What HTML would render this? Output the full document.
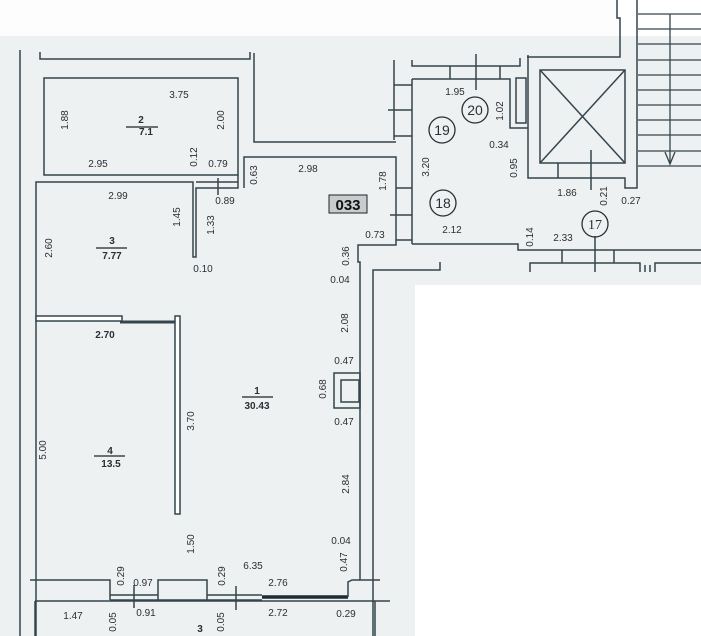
<!DOCTYPE html>
<html><head><meta charset="utf-8"><style>
html,body{margin:0;padding:0;background:#fff}
svg{display:block}
text{font-family:"Liberation Sans",sans-serif;font-size:10px;fill:#2a2f33}
</style></head><body>
<svg width="701" height="636" viewBox="0 0 701 636" xmlns="http://www.w3.org/2000/svg">
<rect x="0" y="36" width="701" height="600" fill="#eef1f2"/>
<rect x="0" y="0" width="620" height="36" fill="#fdfdfd"/>
<rect x="415" y="285" width="286" height="351" fill="#ffffff"/>
<g stroke="#34454d" stroke-width="1.5" fill="none">
<line x1="20" y1="50" x2="20" y2="636"/>
<polyline points="40,52 40,59 250,59 250,52"/>
<rect x="44" y="78" width="194" height="97"/>
<polyline points="254,53 254,142 396,142"/>
<polyline points="36,636 36,182 193,182 193,257 196,257 196,188 238,188 238,175"/>
<line x1="196" y1="182" x2="238" y2="182"/>
<line x1="218" y1="178" x2="218" y2="195"/>
<polyline points="244,188 244,157 396,157 396,245 358,245 358,262 360,262 360,580 380,580"/>
<line x1="396" y1="188" x2="412" y2="188"/>
<line x1="390" y1="215" x2="412" y2="215"/>
<line x1="396" y1="240" x2="412" y2="240"/>
<polyline points="373,636 373,270 440,270 440,262"/>
<rect x="334" y="373" width="26" height="35"/>
<rect x="341" y="380" width="18" height="22"/>
<polyline points="394,60 394,140"/>
<line x1="394" y1="85" x2="412" y2="85"/>
<line x1="388" y1="110" x2="412" y2="110"/>
<line x1="394" y1="136" x2="412" y2="136"/>
<polyline points="412,79 510,79 510,128 528,128"/>
<line x1="412" y1="79" x2="412" y2="244"/>
<polyline points="412,244 518,244 518,250 701,250"/>
<polyline points="412,60 412,66 520,66 520,58"/>
<line x1="450" y1="66" x2="450" y2="79"/>
<line x1="476" y1="54" x2="476" y2="90"/>
<line x1="500" y1="66" x2="500" y2="79"/>
<rect x="516" y="78" width="10" height="45"/>
<polyline points="528,55 528,178 625,178 625,188 637,188 637,0"/>
<polyline points="527,57 620,57 620,18 617,18 617,0"/>
<rect x="540" y="70" width="85" height="93"/>
<line x1="540" y1="70" x2="625" y2="163"/>
<line x1="625" y1="70" x2="540" y2="163"/>
<line x1="558" y1="163" x2="558" y2="178"/>
<line x1="591" y1="150" x2="591" y2="190"/>
<g stroke-width="1.3">
<line x1="638" y1="14" x2="701" y2="14"/><line x1="638" y1="29" x2="701" y2="29"/>
<line x1="638" y1="44" x2="701" y2="44"/><line x1="638" y1="60" x2="701" y2="60"/>
<line x1="638" y1="75" x2="701" y2="75"/><line x1="638" y1="90" x2="701" y2="90"/>
<line x1="638" y1="105" x2="701" y2="105"/><line x1="638" y1="120" x2="701" y2="120"/>
<line x1="638" y1="135" x2="701" y2="135"/><line x1="638" y1="151" x2="701" y2="151"/>
<line x1="638" y1="166" x2="701" y2="166"/>
<line x1="670" y1="14" x2="670" y2="164"/>
<polyline points="665,152 670,164 675,152"/>
</g>
<polyline points="530,272 530,263 640,263 640,272"/>
<polyline points="655,272 655,263 701,263"/>
<line x1="562" y1="250" x2="562" y2="263"/>
<line x1="595" y1="236" x2="595" y2="272"/>
<line x1="614" y1="250" x2="614" y2="263"/>
<line x1="645" y1="265" x2="645" y2="272"/><line x1="650" y1="265" x2="650" y2="272"/>
<rect x="36" y="316" width="86" height="5" fill="#fff"/>
<line x1="120" y1="322" x2="175" y2="322" stroke-width="3"/>
<rect x="175" y="316" width="5" height="198" fill="#fff"/>
<polyline points="30,580 110,580 110,600"/>
<line x1="110" y1="595" x2="158" y2="595"/>
<line x1="110" y1="600" x2="158" y2="600"/>
<rect x="158" y="580" width="49" height="20"/>
<line x1="207" y1="595" x2="262" y2="595"/>
<line x1="207" y1="600" x2="262" y2="600"/>
<line x1="262" y1="597" x2="348" y2="597" stroke-width="3.5" stroke="#1f2a33"/>
<polyline points="348,597 348,582 352,580 360,580"/>
<line x1="35" y1="601" x2="390" y2="601"/>
<line x1="35" y1="601" x2="35" y2="636"/>
<line x1="134" y1="585" x2="134" y2="608"/>
<line x1="236" y1="586" x2="236" y2="610"/>
<line x1="375" y1="601" x2="375" y2="636"/>
</g>
<g stroke="#2a2f33" stroke-width="1.3" fill="none">
<circle cx="475" cy="110" r="13"/><circle cx="442" cy="130" r="13"/>
<circle cx="443" cy="203" r="13"/><circle cx="595" cy="224" r="13"/>
</g>
<g text-anchor="middle">
<text x="475" y="115" style="font-size:14px">20</text><text x="442" y="135" style="font-size:14px">19</text>
<text x="443" y="208" style="font-size:14px">18</text><text x="595" y="229" style="font-size:14px;font-family:'Liberation Serif',serif">17</text>
</g>
<rect x="329" y="195" width="38" height="18" fill="#c8ccce" stroke="#222" stroke-width="1"/>
<text x="348" y="210" text-anchor="middle" style="font-size:15px;font-weight:bold;fill:#111">033</text>
<g text-anchor="middle" style="font-size:11px;font-weight:bold">
<text x="141" y="123">2</text><text x="146" y="135">7.1</text>
<text x="112" y="244">3</text><text x="112" y="259">7.77</text>
<text x="110" y="454">4</text><text x="111" y="467">13.5</text>
<text x="257" y="394">1</text><text x="257" y="409">30.43</text>
<text x="200" y="632">3</text>
</g>
<g stroke="#222" stroke-width="1.2">
<line x1="126" y1="127" x2="158" y2="127"/><line x1="96" y1="248" x2="127" y2="248"/>
<line x1="94" y1="456" x2="125" y2="456"/><line x1="242" y1="397" x2="273" y2="397"/>
</g>
<g text-anchor="middle">
<text x="179" y="98">3.75</text><text x="98" y="167">2.95</text><text x="218" y="167">0.79</text>
<text x="118" y="199">2.99</text><text x="225" y="204">0.89</text><text x="308" y="172">2.98</text>
<text x="375" y="238">0.73</text><text x="340" y="283">0.04</text><text x="203" y="272">0.10</text>
<text x="105" y="338" style="font-weight:bold">2.70</text><text x="344" y="364">0.47</text><text x="344" y="425">0.47</text>
<text x="341" y="544">0.04</text><text x="253" y="569">6.35</text><text x="278" y="586">2.76</text>
<text x="143" y="586">0.97</text><text x="146" y="616">0.91</text><text x="73" y="619">1.47</text>
<text x="278" y="616">2.72</text><text x="346" y="617">0.29</text>
<text x="455" y="95">1.95</text><text x="499" y="148">0.34</text><text x="567" y="196">1.86</text>
<text x="631" y="204">0.27</text><text x="452" y="233">2.12</text><text x="563" y="241">2.33</text>
</g>
<g text-anchor="middle">
<text transform="translate(68,120) rotate(-90)">1.88</text>
<text transform="translate(224,120) rotate(-90)">2.00</text>
<text transform="translate(197,157) rotate(-90)">0.12</text>
<text transform="translate(257,175) rotate(-90)">0.63</text>
<text transform="translate(180,217) rotate(-90)">1.45</text>
<text transform="translate(214,225) rotate(-90)">1.33</text>
<text transform="translate(386,181) rotate(-90)">1.78</text>
<text transform="translate(52,248) rotate(-90)">2.60</text>
<text transform="translate(349,256) rotate(-90)">0.36</text>
<text transform="translate(348,323) rotate(-90)">2.08</text>
<text transform="translate(326,389) rotate(-90)">0.68</text>
<text transform="translate(194,421) rotate(-90)">3.70</text>
<text transform="translate(46,450) rotate(-90)">5.00</text>
<text transform="translate(349,484) rotate(-90)">2.84</text>
<text transform="translate(194,544) rotate(-90)">1.50</text>
<text transform="translate(347,562) rotate(-90)">0.47</text>
<text transform="translate(124,576) rotate(-90)">0.29</text>
<text transform="translate(225,576) rotate(-90)">0.29</text>
<text transform="translate(116,622) rotate(-90)">0.05</text>
<text transform="translate(224,622) rotate(-90)">0.05</text>
<text transform="translate(503,111) rotate(-90)">1.02</text>
<text transform="translate(429,167) rotate(-90)">3.20</text>
<text transform="translate(517,168) rotate(-90)">0.95</text>
<text transform="translate(607,196) rotate(-90)">0.21</text>
<text transform="translate(533,237) rotate(-90)">0.14</text>
</g>
</svg>
</body></html>
